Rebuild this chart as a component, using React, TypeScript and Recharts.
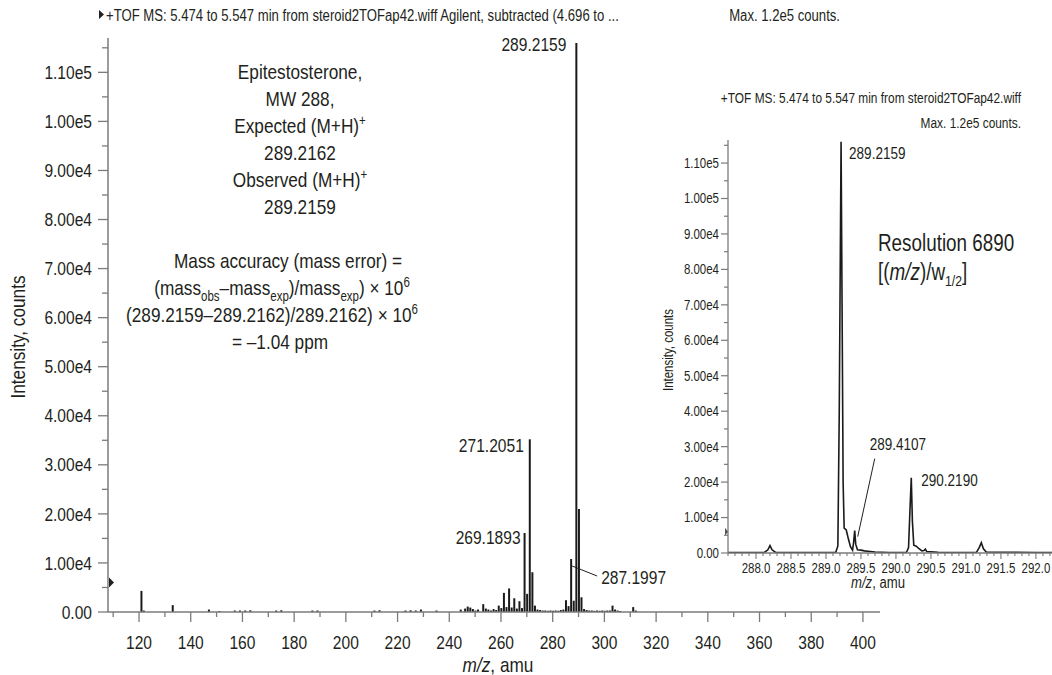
import { Bar, ComposedChart, LabelList, Line, LineChart, ReferenceDot, XAxis, YAxis } from "recharts";

// the original uses a condensed face; Liberation Sans squeezed horizontally stands in for it
const FONT = '"Liberation Sans", Arial, sans-serif';
const SX = 0.82;
const INK = "#231f20";
const AXIS = "#7b7b7b";

// main spectrum, centroided sticks (m/z, counts)
const stickMz = [
  121.0, 121.9, 133.1, 147.1, 151.1, 157.1, 159.1, 161.1, 163.1, 173.1, 175.1, 187.1, 189.1,
  211.1, 213.1, 223.1, 225.1, 227.1, 229.1, 235.1, 244.5, 246.2, 247.2, 248.2, 249.2, 250.2,
  251.2, 253.2, 254.2, 255.2, 256.2, 257.2, 258.2, 259.2, 260.2, 261.2, 262.2, 263.2, 264.2,
  265.2, 266.2, 267.2, 268.2, 269.1893, 270.19, 271.2051, 272.21, 273.2, 274.2, 275.2, 276.2,
  277.2, 278.2, 279.2, 280.2, 281.2, 282.2, 283.2, 284.2, 285.2, 286.2, 287.1997, 288.2,
  289.2159, 290.219, 291.2, 292.2, 293.2, 294.2, 295.2, 296.2, 297.2, 298.2, 299.2, 300.2,
  301.2, 302.2, 303.2, 304.2, 305.2, 306.2, 311.2, 312.2,
];
const stickCounts = [
  4300, 300, 1400, 500, 200, 300, 300, 300, 350, 300, 350, 300, 300,
  300, 350, 300, 350, 300, 500, 300, 500, 700, 1100, 900, 600, 300,
  500, 1600, 700, 500, 300, 600, 400, 1300, 800, 3900, 1000, 4800, 900,
  2800, 700, 2200, 800, 16100, 3700, 35200, 8100, 1300, 500, 400, 300,
  300, 250, 300, 250, 300, 250, 400, 500, 2400, 1200, 10800, 2300,
  116000, 21000, 3000, 600, 400, 300, 300, 250, 300, 250, 300, 250,
  300, 300, 1300, 500, 300, 200, 1000, 300,
];
const mainPeakLabels = ["269.1893", "271.2051", "287.1997", "289.2159"];

const mainXTicks = [110, 120, 130, 140, 150, 160, 170, 180, 190, 200, 210, 220, 230, 240, 250, 260, 270, 280, 290, 300, 310, 320, 330, 340, 350, 360, 370, 380, 390, 400];
const mainYTicks = [0, 5000, 10000, 15000, 20000, 25000, 30000, 35000, 40000, 45000, 50000, 55000, 60000, 65000, 70000, 75000, 80000, 85000, 90000, 95000, 100000, 105000, 110000, 115000];

// inset, profile trace around the [M+H]+ cluster
const profileMz = [
  287.6, 288.0, 288.12, 288.17, 288.2, 288.23, 288.28, 288.6, 289.0, 289.14, 289.17, 289.19,
  289.2159, 289.23, 289.245, 289.26, 289.29, 289.32, 289.35, 289.38, 289.395, 289.4107, 289.425,
  289.45, 289.5, 289.55, 289.6, 289.7, 289.9, 290.15, 290.18, 290.2, 290.219, 290.235, 290.255,
  290.29, 290.33, 290.37, 290.4, 290.42, 290.44, 290.6, 291.0, 291.15, 291.19, 291.22, 291.25,
  291.29, 291.5, 292.0, 292.23,
];
const profileCounts = [
  100, 100, 150, 900, 2100, 900, 150, 100, 100, 200, 2000, 40000,
  116000, 70000, 20000, 7000, 6500, 4000, 1800, 800, 3000, 6300, 2500,
  900, 800, 600, 500, 300, 150, 150, 1500, 12000, 21200, 9000, 2200,
  1900, 1200, 600, 700, 1100, 400, 200, 150, 200, 1500, 2900, 1200,
  300, 200, 150, 100,
];
const insetPeakLabels = ["289.2159", "289.4107", "290.2190"];

const insetXTicks = [
  287.6, 287.7, 287.8, 287.9, 288.0, 288.1, 288.2, 288.3, 288.4, 288.5, 288.6, 288.7, 288.8, 288.9,
  289.0, 289.1, 289.2, 289.3, 289.4, 289.5, 289.6, 289.7, 289.8, 289.9, 290.0, 290.1, 290.2, 290.3,
  290.4, 290.5, 290.6, 290.7, 290.8, 290.9, 291.0, 291.1, 291.2, 291.3, 291.4, 291.5, 291.6, 291.7,
  291.8, 291.9, 292.0, 292.1, 292.2,
];
const insetYTicks = mainYTicks;

const mainData = stickMz.map((mz, i) => ({
  mz,
  counts: stickCounts[i],
  label: mainPeakLabels.includes(mz.toFixed(4)) ? mz.toFixed(4) : "",
}));
const insetData = profileMz.map((mz, i) => ({
  mz,
  counts: profileCounts[i],
  label: insetPeakLabels.includes(mz.toFixed(4)) ? mz.toFixed(4) : "",
}));

const fmtCounts = (v: number) => (v === 0 ? "0.00" : v.toExponential(2).replace("e+", "e"));

// narrow text: squeezed around its anchor point
const NT = ({ x, y, size, anchor = "start", rotate = 0, children }: any) => (
  <text
    transform={`translate(${x} ${y}) rotate(${rotate}) scale(${SX} 1)`}
    x={0}
    y={0}
    dy="0.35em"
    textAnchor={anchor}
    fontSize={size}
    fontFamily={FONT}
    fill={INK}
  >
    {children}
  </text>
);

const MainYTick = ({ x, y, payload }: any) => {
  const major = payload.value % 10000 === 0;
  return (
    <g>
      <line x1={x - (major ? 10 : 6)} x2={x} y1={y} y2={y} stroke={AXIS} strokeWidth={1.3} />
      {major && <NT x={x - 16} y={y} size={19} anchor="end">{fmtCounts(payload.value)}</NT>}
    </g>
  );
};

const MainXTick = ({ x, y, payload }: any) => {
  const major = payload.value % 20 === 0;
  return (
    <g>
      <line x1={x} x2={x} y1={y} y2={y + (major ? 10 : 5)} stroke={AXIS} strokeWidth={1.3} />
      {major && <NT x={x} y={y + 30} size={19} anchor="middle">{payload.value}</NT>}
    </g>
  );
};

const InsetYTick = ({ x, y, payload }: any) => {
  const major = payload.value % 10000 === 0;
  return (
    <g>
      <line x1={x - (major ? 7 : 4)} x2={x} y1={y} y2={y} stroke={AXIS} strokeWidth={1.2} />
      {major && <NT x={x - 9} y={y} size={14} anchor="end">{fmtCounts(payload.value)}</NT>}
    </g>
  );
};

const InsetXTick = ({ x, y, payload }: any) => {
  const v = payload.value;
  const major = Math.abs(v * 2 - Math.round(v * 2)) < 1e-6;
  return (
    <g>
      <line x1={x} x2={x} y1={y} y2={y + (major ? 6 : 3)} stroke={AXIS} strokeWidth={1.1} />
      {major && <NT x={x} y={y + 15} size={14} anchor="middle">{v.toFixed(1)}</NT>}
    </g>
  );
};

const boxOf = (p: any) => {
  const vb = p.viewBox || {};
  return { x: vb.x ?? p.x, y: vb.y ?? p.y, width: vb.width ?? p.width ?? 0 };
};

const MainPeakLabel = (props: any) => {
  const { value } = props;
  if (!value) return null;
  const { x, y, width } = boxOf(props);
  const cx = x + width / 2;
  if (value === "287.1997") {
    return (
      <g>
        <line x1={cx + 1} y1={y + 7} x2={cx + 26} y2={y + 17} stroke={INK} strokeWidth={1} />
        <NT x={cx + 30} y={y + 18} size={19}>{value}</NT>
      </g>
    );
  }
  const off = value === "289.2159" ? [-10, 1] : value === "271.2051" ? [-6, 6] : [-4, 4];
  return <NT x={cx + off[0]} y={y + off[1]} size={19} anchor="end">{value}</NT>;
};

const InsetPeakLabel = (props: any) => {
  const { value } = props;
  if (!value) return null;
  const { x, y } = boxOf(props);
  if (value === "289.4107") {
    return (
      <g>
        <line x1={x + 3} y1={y + 6} x2={x + 20} y2={y - 72} stroke={INK} strokeWidth={1} />
        <NT x={x + 15} y={y - 86} size={16.5}>{value}</NT>
      </g>
    );
  }
  const off = value === "289.2159" ? [8, 11] : [10, 2];
  return <NT x={x + off[0]} y={y + off[1]} size={16.5}>{value}</NT>;
};

const Marker = ({ cx, cy }: any) => (
  <polygon points={`${cx + 1},${cy - 5} ${cx + 6},${cy} ${cx + 1},${cy + 5}`} fill={INK} />
);
const SmallMarker = ({ cx, cy }: any) => (
  <polygon points={`${cx - 3},${cy - 4} ${cx},${cy} ${cx - 3},${cy + 4}`} fill="#555" />
);

export default function App() {
  const annX = 300;
  return (
    <div style={{ position: "absolute", left: 0, top: 0, width: 1052, height: 675, background: "#fff", fontFamily: FONT }}>
      <div style={{ position: "absolute", left: 0, top: 0 }}>
        <ComposedChart width={1052} height={675} data={mainData} margin={{ top: 38, right: 172, bottom: 23, left: 8 }}>
          <XAxis
            dataKey="mz"
            type="number"
            domain={[108, 406.6]}
            allowDataOverflow
            ticks={mainXTicks}
            interval={0}
            height={40}
            tickSize={0}
            tickMargin={0}
            tickLine={false}
            tick={<MainXTick />}
            axisLine={{ stroke: AXIS, strokeWidth: 1.5 }}
          />
          <YAxis
            type="number"
            domain={[0, 117000]}
            allowDataOverflow
            ticks={mainYTicks}
            interval={0}
            width={100}
            tickSize={0}
            tickMargin={0}
            tickLine={false}
            tick={<MainYTick />}
            axisLine={{ stroke: AXIS, strokeWidth: 1.5 }}
          />
          <Bar dataKey="counts" fill="#1a1a1a" barSize={2} isAnimationActive={false}>
            <LabelList dataKey="label" content={<MainPeakLabel />} />
          </Bar>
          <ReferenceDot x={108} y={6000} r={5} shape={<Marker />} ifOverflow="visible" />
        </ComposedChart>
      </div>

      <div style={{ position: "absolute", left: 0, top: 0 }}>
        <LineChart width={1052} height={675} data={insetData} margin={{ top: 140, right: 0, bottom: 92, left: 668 }}>
          <XAxis
            dataKey="mz"
            type="number"
            domain={[287.6, 292.23]}
            allowDataOverflow
            ticks={insetXTicks}
            interval={0}
            height={30}
            tickSize={0}
            tickMargin={0}
            tickLine={false}
            tick={<InsetXTick />}
            axisLine={{ stroke: AXIS, strokeWidth: 1.3 }}
          />
          <YAxis
            type="number"
            domain={[0, 116500]}
            allowDataOverflow
            ticks={insetYTicks}
            interval={0}
            width={60}
            tickSize={0}
            tickMargin={0}
            tickLine={false}
            tick={<InsetYTick />}
            axisLine={{ stroke: AXIS, strokeWidth: 1.3 }}
          />
          <Line
            type="linear"
            dataKey="counts"
            stroke="#1a1a1a"
            strokeWidth={1.6}
            dot={false}
            activeDot={false}
            isAnimationActive={false}
          >
            <LabelList dataKey="label" content={<InsetPeakLabel />} />
          </Line>
          <ReferenceDot x={287.6} y={6000} r={4} shape={<SmallMarker />} ifOverflow="visible" />
        </LineChart>
      </div>

      <svg width={1052} height={675} style={{ position: "absolute", left: 0, top: 0, pointerEvents: "none" }}>
        {/* main header */}
        <polygon points="99,10 104,14.5 99,19" fill={INK} />
        <NT x={106} y={15} size={16}>
          +TOF MS: 5.474 to 5.547 min from steroid2TOFap42.wiff Agilent, subtracted (4.696 to ...
        </NT>
        <NT x={840} y={15} size={16} anchor="end">Max. 1.2e5 counts.</NT>

        {/* annotation block */}
        <NT x={annX} y={72} size={21} anchor="middle">Epitestosterone,</NT>
        <NT x={annX} y={99} size={21} anchor="middle">MW 288,</NT>
        <NT x={annX} y={126} size={21} anchor="middle">
          Expected (M+H)<tspan dy={-8} fontSize={14}>+</tspan>
        </NT>
        <NT x={annX} y={153} size={21} anchor="middle">289.2162</NT>
        <NT x={annX} y={180} size={21} anchor="middle">
          Observed (M+H)<tspan dy={-8} fontSize={14}>+</tspan>
        </NT>
        <NT x={annX} y={207} size={21} anchor="middle">289.2159</NT>
        <NT x={annX - 12} y={261} size={21} anchor="middle">Mass accuracy (mass error) =</NT>
        <NT x={annX - 18} y={288} size={21} anchor="middle">
          (mass<tspan dy={6} fontSize={14}>obs</tspan>
          <tspan dy={-6}>–mass</tspan>
          <tspan dy={6} fontSize={14}>exp</tspan>
          <tspan dy={-6}>)/mass</tspan>
          <tspan dy={6} fontSize={14}>exp</tspan>
          <tspan dy={-6}>) × 10</tspan>
          <tspan dy={-8} fontSize={14}>6</tspan>
        </NT>
        <NT x={annX - 28} y={315} size={21} anchor="middle">
          (289.2159–289.2162)/289.2162) × 10<tspan dy={-8} fontSize={14}>6</tspan>
        </NT>
        <NT x={annX - 20} y={342} size={21} anchor="middle">= –1.04 ppm</NT>

        {/* main axis titles */}
        <NT x={18} y={337} size={21} anchor="middle" rotate={-90}>Intensity, counts</NT>
        <NT x={498} y={665} size={21} anchor="middle">
          <tspan fontStyle="italic">m/z</tspan>, amu
        </NT>

        {/* inset header and notes */}
        <NT x={1021} y={98} size={14.5} anchor="end">+TOF MS: 5.474 to 5.547 min from steroid2TOFap42.wiff</NT>
        <NT x={1021} y={123} size={14.5} anchor="end">Max. 1.2e5 counts.</NT>
        <NT x={878} y={243} size={23}>Resolution 6890</NT>
        <NT x={878} y={272} size={23}>
          [(<tspan fontStyle="italic">m/z</tspan>)/w<tspan dy={6} fontSize={15}>1/2</tspan>
          <tspan dy={-6}>]</tspan>
        </NT>
        <NT x={668} y={350} size={14} anchor="middle" rotate={-90}>Intensity, counts</NT>
        <NT x={878} y={582} size={16} anchor="middle">
          <tspan fontStyle="italic">m/z</tspan>, amu
        </NT>
      </svg>
    </div>
  );
}
